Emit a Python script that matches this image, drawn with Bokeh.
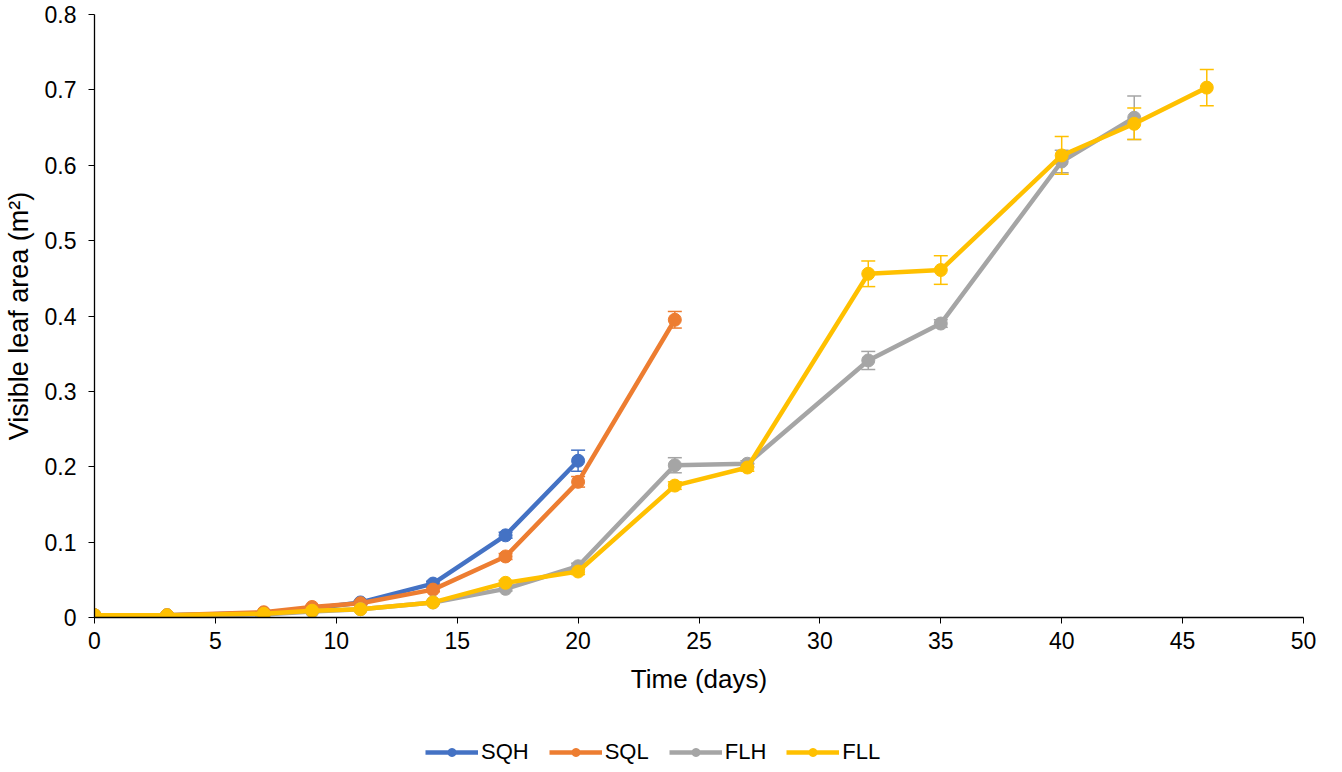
from bokeh.plotting import figure
from bokeh.layouts import column
from bokeh.models import (ColumnDataSource, Whisker, TeeHead, Legend, LegendItem,
                          FixedTicker, CustomJSTickFormatter, Range1d)
from bokeh.embed import file_html
from bokeh.resources import INLINE

# ---- data ----
sqh_days = [0, 3, 7, 9, 11, 14, 17, 20]
sqh_area = [0.003, 0.003, 0.006, 0.012, 0.020, 0.045, 0.109, 0.208]
sqh_err = [0.001, 0.001, 0.001, 0.002, 0.002, 0.003, 0.004, 0.014]

sql_days = [0, 3, 7, 9, 11, 14, 17, 20, 24]
sql_area = [0.003, 0.003, 0.007, 0.014, 0.019, 0.037, 0.081, 0.180, 0.395]
sql_err = [0.001, 0.001, 0.001, 0.002, 0.002, 0.003, 0.004, 0.007, 0.011]

flh_days = [0, 3, 7, 9, 11, 14, 17, 20, 24, 27, 32, 35, 40, 43]
flh_area = [0.002, 0.002, 0.004, 0.008, 0.011, 0.020, 0.038, 0.068, 0.202, 0.204,
            0.341, 0.390, 0.605, 0.663]
flh_err = [0.001, 0.001, 0.001, 0.001, 0.001, 0.002, 0.003, 0.004, 0.010, 0.004,
           0.012, 0.005, 0.015, 0.029]

fll_days = [0, 3, 7, 9, 11, 14, 17, 20, 24, 27, 32, 35, 40, 43, 46]
fll_area = [0.003, 0.003, 0.005, 0.009, 0.011, 0.020, 0.046, 0.061, 0.175, 0.199,
            0.456, 0.461, 0.613, 0.655, 0.703]
fll_err = [0.001, 0.001, 0.001, 0.001, 0.001, 0.002, 0.003, 0.004, 0.005, 0.005,
           0.017, 0.019, 0.025, 0.021, 0.024]

series = [
    ("SQH", sqh_days, sqh_area, sqh_err, "#4472C4"),
    ("SQL", sql_days, sql_area, sql_err, "#ED7D31"),
    ("FLH", flh_days, flh_area, flh_err, "#A5A5A5"),
    ("FLL", fll_days, fll_area, fll_err, "#FFC000"),
]

x_ticks = [0, 5, 10, 15, 20, 25, 30, 35, 40, 45, 50]
y_ticks = [0, 0.1, 0.2, 0.3, 0.4, 0.5, 0.6, 0.7, 0.8]

FONT = "Liberation Sans"

p = figure(width=1326, height=705, output_backend="svg", toolbar_location=None,
           x_range=Range1d(0, 50), y_range=Range1d(0, 0.8),
           min_border_left=92, min_border_right=23, min_border_top=14,
           min_border_bottom=88)
p.outline_line_color = None
p.xgrid.grid_line_color = None
p.ygrid.grid_line_color = None

# legend-only figure (same series styles)
lg = figure(width=1326, height=59, output_backend="svg", toolbar_location=None,
            x_range=Range1d(0, 1), y_range=Range1d(0, 1),
            x_axis_location=None, y_axis_location=None,
            min_border_left=0, min_border_right=0, min_border_top=0,
            min_border_bottom=0)
lg.outline_line_color = None
lg.xgrid.grid_line_color = None
lg.ygrid.grid_line_color = None

items = []
for name, xs, ys, es, col in series:
    src = ColumnDataSource(dict(x=xs, y=ys,
                                lo=[a - e for a, e in zip(ys, es)],
                                hi=[a + e for a, e in zip(ys, es)]))
    p.line("x", "y", source=src, line_color=col, line_width=4.5)
    w = Whisker(source=src, base="x", lower="lo", upper="hi",
                line_color=col, line_width=1.5,
                upper_head=TeeHead(size=14, line_color=col, line_width=1.5),
                lower_head=TeeHead(size=14, line_color=col, line_width=1.5))
    p.add_layout(w)
    p.scatter("x", "y", source=src, size=13, fill_color=col, line_color=col)
    # off-screen point so the legend glyphs are drawn
    ghost = ColumnDataSource(dict(x=[-10, -11], y=[-10, -10]))
    l1 = lg.line("x", "y", source=ghost, line_color=col, line_width=4.5)
    l2 = lg.scatter("x", "y", source=ghost, size=13, fill_color=col, line_color=col)
    items.append(LegendItem(label=name, renderers=[l1, l2]))

p.xaxis.ticker = FixedTicker(ticks=x_ticks)
p.yaxis.ticker = FixedTicker(ticks=y_ticks)
p.xaxis.formatter = CustomJSTickFormatter(code="return String(Number(tick.toFixed(2)));")
p.yaxis.formatter = CustomJSTickFormatter(code="return String(Number(tick.toFixed(2)));")

for ax in (p.xaxis[0], p.yaxis[0]):
    ax.axis_line_color = "black"
    ax.axis_line_width = 1.3
    ax.major_tick_line_color = "black"
    ax.major_tick_out = 6
    ax.major_tick_in = 0
    ax.minor_tick_line_color = None
    ax.major_label_text_font = FONT
    ax.major_label_text_font_size = "23px"
    ax.major_label_text_color = "black"
    ax.axis_label_text_font = FONT
    ax.axis_label_text_font_style = "normal"
    ax.axis_label_text_color = "black"

p.xaxis.axis_label_text_font_size = "26px"
p.yaxis.axis_label_text_font_size = "27px"
p.xaxis.axis_label = "Time (days)"
p.yaxis.axis_label = "Visible leaf area (m²)"
p.xaxis.major_label_standoff = 8
p.xaxis.axis_label_standoff = 12
p.yaxis.major_label_standoff = 12
p.yaxis.axis_label_standoff = 8

legend = Legend(items=items, orientation="horizontal", location=(331, -1),
                label_text_font=FONT, label_text_font_size="22px",
                label_text_color="black", glyph_width=53, glyph_height=20,
                label_height=20, spacing=20, label_standoff=3,
                border_line_alpha=0, background_fill_alpha=0, margin=0, padding=0)
lg.add_layout(legend, "center")

layout = column(p, lg, spacing=0)
open("out.html", "w").write(file_html(layout, INLINE))
